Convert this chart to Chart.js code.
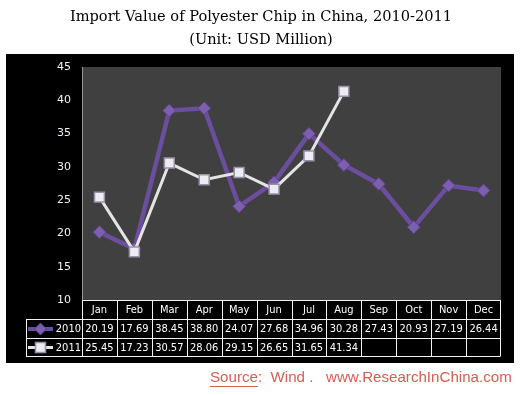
<!DOCTYPE html>
<html>
<head>
<meta charset="utf-8">
<script src="https://cdn.jsdelivr.net/npm/chart.js@4/dist/chart.umd.min.js"></script>
<style>
html,body{margin:0;padding:0;background:#fff;}
canvas{display:block;}
</style>
</head>
<body>
<canvas id="c" width="520" height="395"></canvas>
<script>
const months = ['Jan','Feb','Mar','Apr','May','Jun','Jul','Aug','Sep','Oct','Nov','Dec'];
const values2010 = [20.19,17.69,38.45,38.80,24.07,27.68,34.96,30.28,27.43,20.93,27.19,26.44];
const values2011 = [25.45,17.23,30.57,28.06,29.15,26.65,31.65,41.34,null,null,null,null];
const seriesNames = ['2010','2011'];
const titleLines = ['Import Value of Polyester Chip in China, 2010-2011','(Unit: USD Million)'];
const sourceLabel = 'Source';
const sourceRest = ':  Wind .   www.ResearchInChina.com';

const PURPLE = '#6b4f9e';
const PURPLE_MARK = '#7d5fb0';
const WHITE_LINE = '#e4e4e4';
const TABLE_FONT = '11px "DejaVu Sans Condensed", "DejaVu Sans", sans-serif';
const TITLE_FONT = '14.6px "DejaVu Serif", "Liberation Serif", serif';

function drawMarker(ctx, type, x, y) {
  ctx.save();
  if (type === 0) {
    ctx.fillStyle = PURPLE_MARK;
    ctx.strokeStyle = '#5a4088';
    ctx.lineWidth = 1;
    ctx.beginPath();
    ctx.moveTo(x, y - 6); ctx.lineTo(x + 6, y); ctx.lineTo(x, y + 6); ctx.lineTo(x - 6, y); ctx.closePath();
    ctx.fill(); ctx.stroke();
  } else {
    ctx.fillStyle = '#ececf2';
    ctx.strokeStyle = '#9a90aa';
    ctx.lineWidth = 1.5;
    ctx.fillRect(x - 5, y - 5, 10, 10);
    ctx.strokeRect(x - 5, y - 5, 10, 10);
  }
  ctx.restore();
}

const bgPlugin = {
  id: 'bg',
  beforeDraw(chart) {
    const ctx = chart.ctx, a = chart.chartArea;
    ctx.save();
    ctx.fillStyle = '#ffffff';
    ctx.fillRect(0, 0, chart.width, chart.height);
    ctx.fillStyle = '#000000';
    ctx.fillRect(6, 54, 508, 309);
    ctx.fillStyle = '#404040';
    ctx.fillRect(a.left, a.top, a.right - a.left, a.bottom - a.top);
    // title
    ctx.fillStyle = '#000000';
    ctx.font = TITLE_FONT;
    ctx.textAlign = 'center';
    ctx.textBaseline = 'middle';
    ctx.fillText(titleLines[0], 261, 17);
    ctx.fillText(titleLines[1], 261, 40);
    ctx.restore();
  }
};

const tablePlugin = {
  id: 'table',
  afterDraw(chart) {
    const ctx = chart.ctx, a = chart.chartArea, xs = chart.scales.x;
    const colW = (a.right - a.left) / months.length;
    const legendLeft = 26;
    const rows = [a.bottom, a.bottom + 19, a.bottom + 38, a.bottom + 56];
    const right = a.left + colW * months.length - 1;
    ctx.save();
    ctx.strokeStyle = '#f2f2f2';
    ctx.lineWidth = 1;
    ctx.beginPath();
    ctx.moveTo(a.left, rows[0] + 0.5); ctx.lineTo(right, rows[0] + 0.5);
    for (let r = 1; r < 4; r++) {
      ctx.moveTo(legendLeft, rows[r] + 0.5); ctx.lineTo(right, rows[r] + 0.5);
    }
    for (let i = 0; i <= months.length; i++) {
      const x = Math.round(a.left + colW * i) + 0.5 - (i === months.length ? 1 : 0);
      ctx.moveTo(x, rows[0]); ctx.lineTo(x, rows[3] + 0.5);
    }
    ctx.moveTo(legendLeft + 0.5, rows[1]); ctx.lineTo(legendLeft + 0.5, rows[3] + 0.5);
    ctx.stroke();

    ctx.fillStyle = '#ffffff';
    ctx.font = TABLE_FONT;
    ctx.textAlign = 'center';
    ctx.textBaseline = 'middle';
    const series = [values2010, values2011];
    months.forEach((m, i) => {
      const cx = xs.getPixelForValue(i);
      ctx.fillText(m, cx, (rows[0] + rows[1]) / 2 + 1);
      series.forEach((s, k) => {
        if (s[i] !== null) ctx.fillText(s[i].toFixed(2), cx, (rows[k + 1] + rows[k + 2]) / 2 + 1);
      });
    });
    seriesNames.forEach((name, k) => {
      const cy = (rows[k + 1] + rows[k + 2]) / 2 + 0.5;
      ctx.strokeStyle = k === 0 ? PURPLE : WHITE_LINE;
      ctx.lineWidth = k === 0 ? 4 : 3;
      ctx.beginPath(); ctx.moveTo(28, cy); ctx.lineTo(53, cy); ctx.stroke();
      drawMarker(ctx, k, 40.5, cy);
      ctx.fillStyle = '#ffffff';
      ctx.textAlign = 'right';
      ctx.fillText(name, 81, cy + 0.5);
    });

    const srcColor = '#d95d50';
    let size = 15;
    ctx.font = size + 'px "Liberation Sans", Arial, sans-serif';
    const full = sourceLabel + sourceRest;
    const w = ctx.measureText(full).width;
    size = size * 302 / w;
    ctx.font = size.toFixed(2) + 'px "Liberation Sans", Arial, sans-serif';
    ctx.fillStyle = srcColor;
    ctx.textAlign = 'left';
    ctx.textBaseline = 'middle';
    const sx = 210, sy = 378;
    ctx.fillText(full, sx, sy);
    const lw = ctx.measureText(sourceLabel).width;
    ctx.strokeStyle = srcColor;
    ctx.lineWidth = 1;
    ctx.beginPath(); ctx.moveTo(sx, sy + 8.5); ctx.lineTo(sx + lw, sy + 8.5); ctx.stroke();
    ctx.restore();
  }
};

new Chart(document.getElementById('c'), {
  type: 'line',
  data: {
    labels: months,
    datasets: [
      {
        label: seriesNames[0],
        data: values2010,
        borderColor: PURPLE,
        borderWidth: 4.5,
        pointStyle: 'rectRot',
        pointRadius: 6.5,
        pointHoverRadius: 6.5,
        pointBackgroundColor: PURPLE_MARK,
        pointBorderColor: '#5a4088',
        pointBorderWidth: 1,
        tension: 0,
        order: 1
      },
      {
        label: seriesNames[1],
        data: values2011,
        borderColor: WHITE_LINE,
        borderWidth: 3,
        pointStyle: 'rect',
        pointRadius: 7,
        pointHoverRadius: 7,
        pointBackgroundColor: '#ececf2',
        pointBorderColor: '#9a90aa',
        pointBorderWidth: 1.5,
        tension: 0,
        spanGaps: false,
        order: 0
      }
    ]
  },
  options: {
    responsive: false,
    devicePixelRatio: 1,
    animation: false,
    layout: { padding: { left: 6, right: 19, top: 67, bottom: 95 } },
    plugins: {
      legend: { display: false },
      tooltip: { enabled: false },
      title: { display: false }
    },
    scales: {
      x: {
        display: false,
        offset: true
      },
      y: {
        min: 10,
        max: 45,
        afterFit(scale) { scale.width = 76; },
        ticks: {
          stepSize: 5,
          color: '#eef2f8',
          padding: 11,
          font: { family: '"DejaVu Sans", sans-serif', size: 11 }
        },
        grid: { display: false, drawTicks: false },
        border: { display: true, color: '#9a9a9a', width: 1 }
      }
    }
  },
  plugins: [bgPlugin, tablePlugin]
});
</script>
</body>
</html>
